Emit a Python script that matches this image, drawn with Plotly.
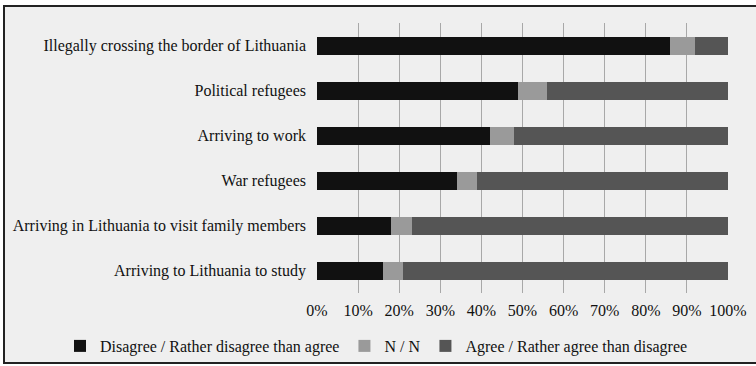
import plotly.graph_objects as go

categories = [
    "Illegally crossing the border of Lithuania",
    "Political refugees",
    "Arriving to work",
    "War refugees",
    "Arriving in Lithuania to visit family members",
    "Arriving to Lithuania to study",
]
disagree = [86, 49, 42, 34, 18, 16]
neutral = [6, 7, 6, 5, 5, 5]
agree = [8, 44, 52, 61, 77, 79]
series_names = [
    "Disagree / Rather disagree than agree",
    "N / N",
    "Agree / Rather agree than disagree",
]
tick_vals = [0, 10, 20, 30, 40, 50, 60, 70, 80, 90, 100]
tick_text = [f"{v}%" for v in tick_vals]

colors = ["#111111", "#9a9a9a", "#555555"]
FONT = "Liberation Serif"

fig = go.Figure()
for name, vals, col in zip(series_names, [disagree, neutral, agree], colors):
    fig.add_trace(go.Bar(
        y=categories, x=vals, name=name, orientation="h",
        marker=dict(color=col, line=dict(width=0)),
    ))

W, H = 756, 366
L, R, T, B = 317, 28, 23, 73
pw, ph = W - L - R, H - T - B

def px_x(p):
    return (p - L) / pw

def px_y(p):
    return (H - B - p) / ph

fig.add_shape(type="rect", xref="paper", yref="paper",
              x0=px_x(4), x1=px_x(760), y0=px_y(363), y1=px_y(6),
              fillcolor="#efefef", line=dict(color="#222222", width=2),
              layer="below")

fig.update_layout(
    width=W, height=H,
    margin=dict(l=L, r=R, t=T, b=B, pad=0, autoexpand=False),
    barmode="stack",
    bargap=0.6,
    paper_bgcolor="white",
    plot_bgcolor="rgba(0,0,0,0)",
    font=dict(family=FONT, size=16, color="#111111"),
    showlegend=True,
    legend=dict(orientation="h", xref="paper", yref="paper",
                x=px_x(60), xanchor="left", y=px_y(346), yanchor="middle",
                font=dict(family=FONT, size=16, color="#111111"),
                bgcolor="rgba(0,0,0,0)", itemwidth=30, traceorder="normal"),
)
fig.update_xaxes(range=[0, 100], tickvals=tick_vals, ticktext=tick_text,
                 showgrid=True, gridcolor="#a8a8a8", gridwidth=1,
                 zeroline=False, showline=False, ticks="", fixedrange=True,
                 ticklabelstandoff=6)
fig.update_yaxes(categoryorder="array", categoryarray=categories, autorange="reversed",
                 showgrid=False, zeroline=False, showline=False, ticks="",
                 ticklabelstandoff=10)

fig.write_html("out.html")
